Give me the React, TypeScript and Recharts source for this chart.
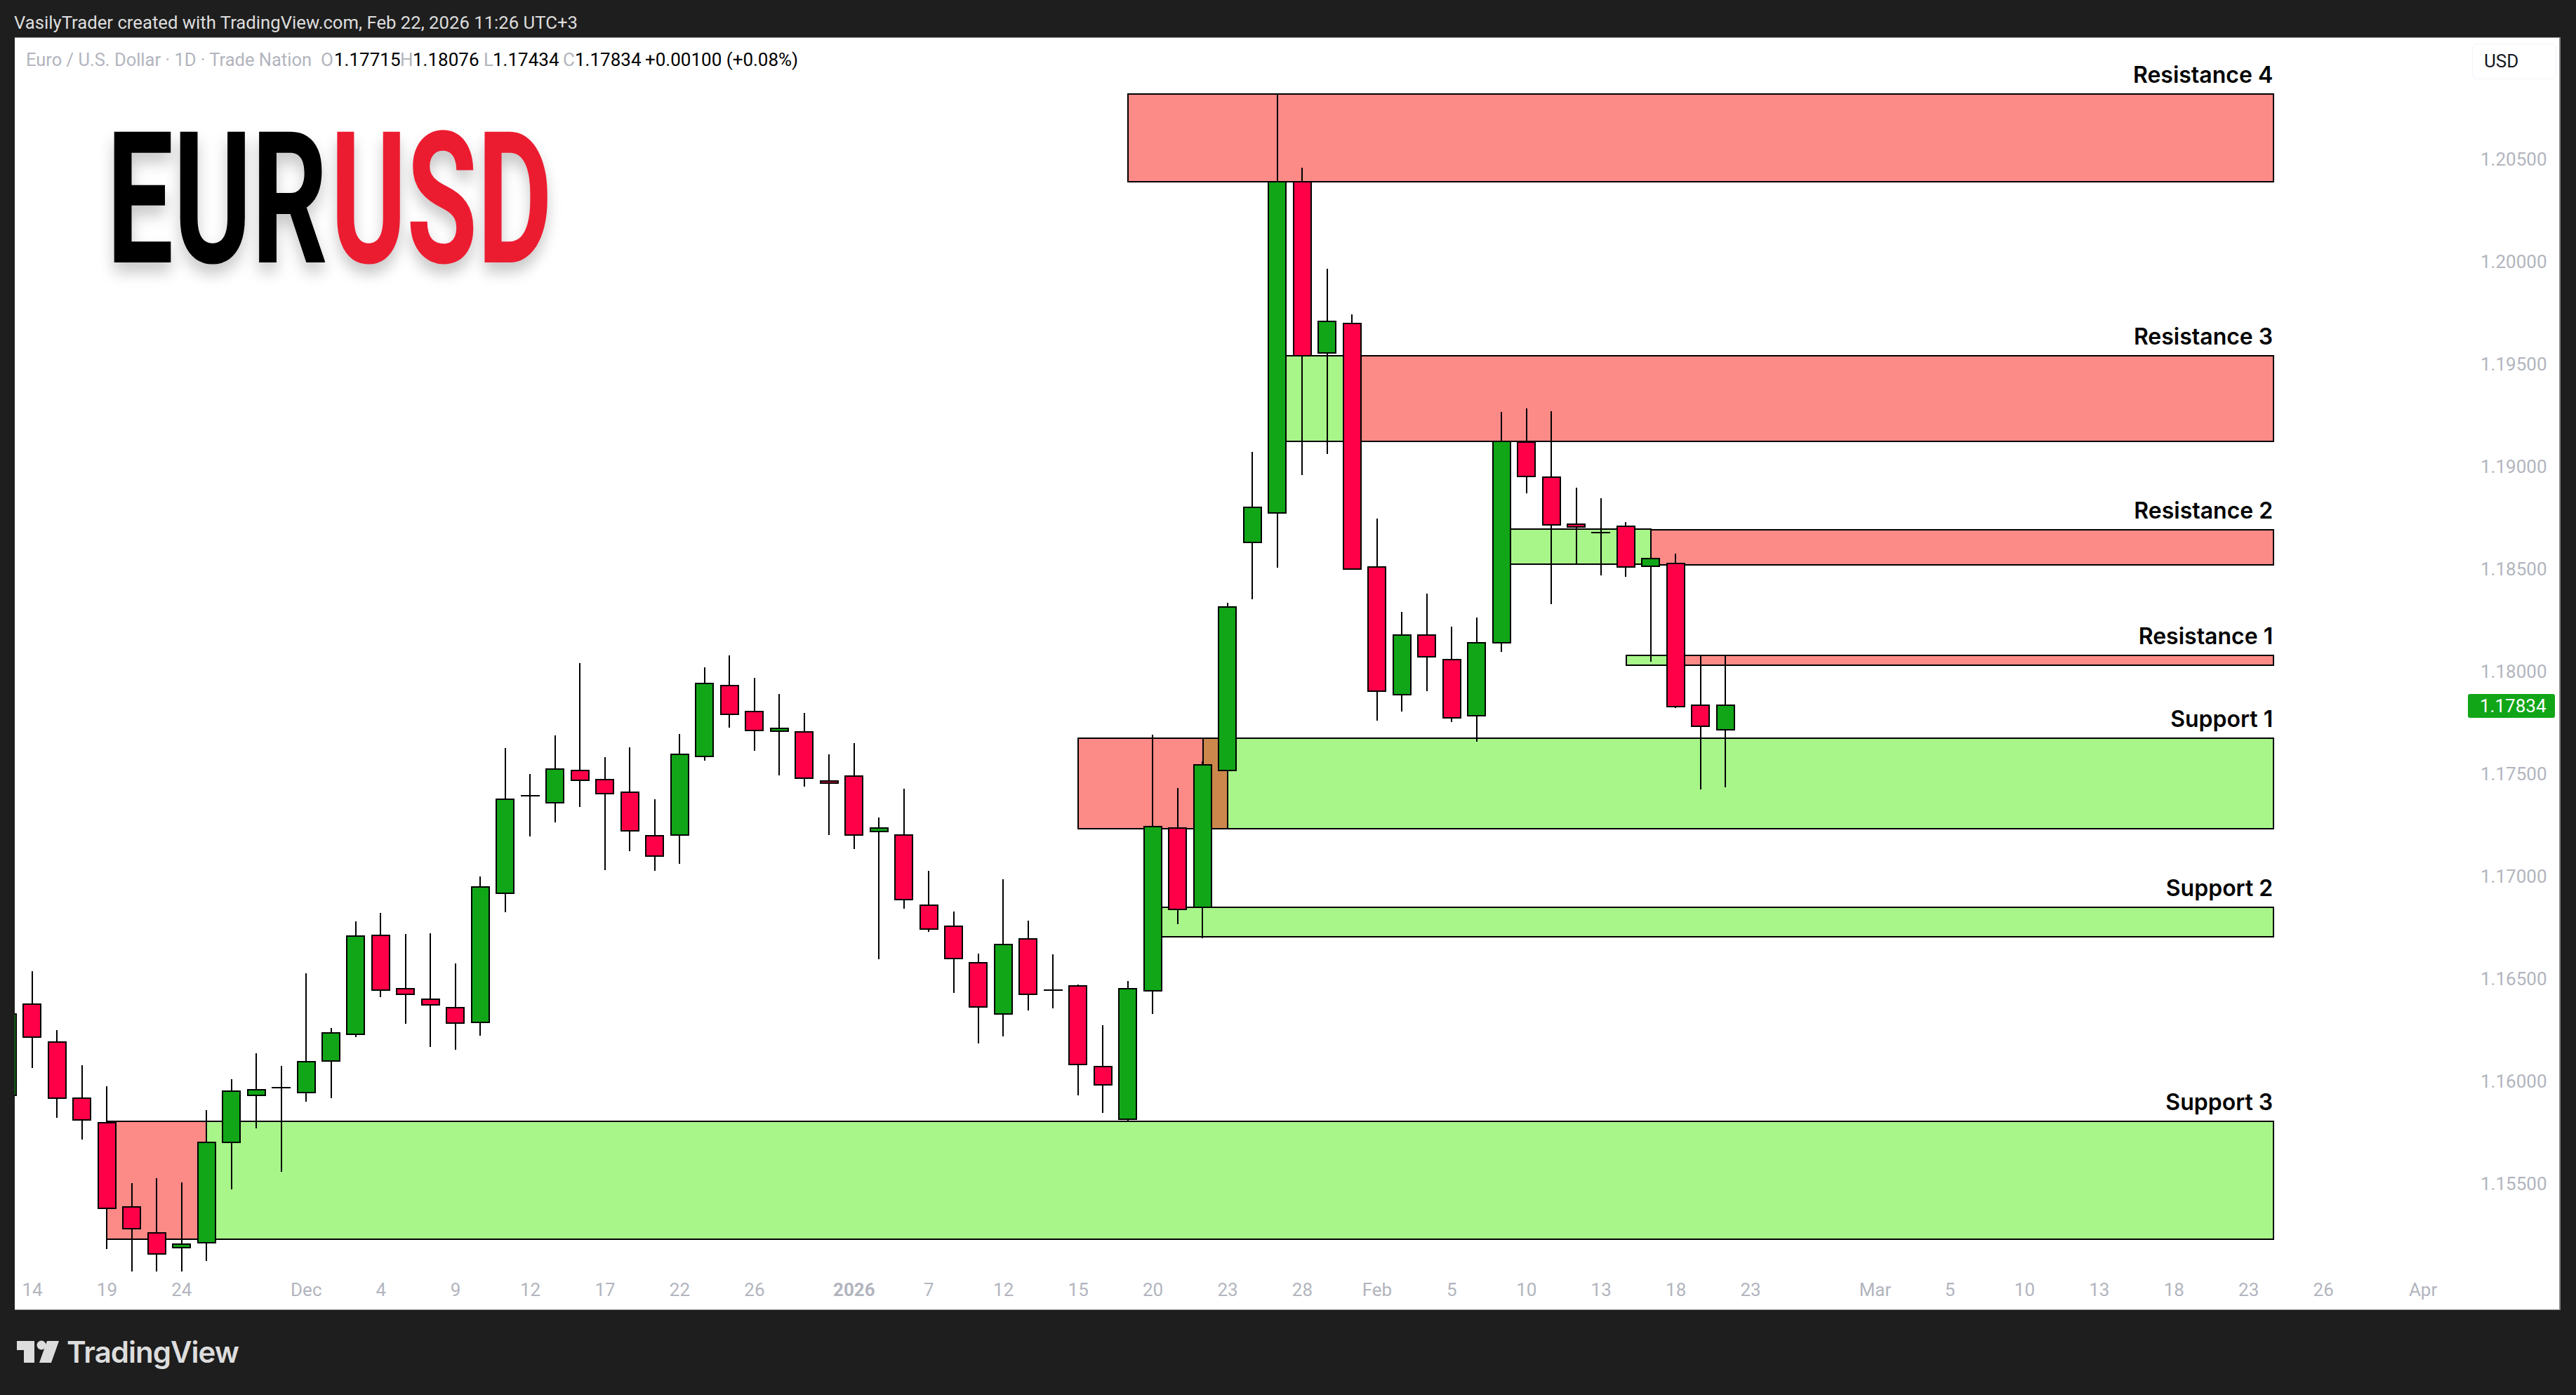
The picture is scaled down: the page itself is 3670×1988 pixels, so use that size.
import React from 'react';
import { ComposedChart, Bar, XAxis, YAxis, ReferenceArea } from 'recharts';

// daily EURUSD candles, first one is the half hidden bar left of the pane
const opens = [
  1.15933, 1.16376, 1.16193, 1.15919, 1.15799, 1.15387, 1.15262, 1.1519, 1.15214, 1.15702,
  1.15933, 1.15969, 1.15947, 1.161, 1.1623, 1.16712, 1.16454, 1.16401, 1.16359, 1.16289,
  1.16918, 1.17395, 1.1736, 1.17518, 1.17474, 1.17412, 1.172, 1.17202, 1.17586, 1.17932,
  1.17806, 1.17709, 1.17706, 1.17466, 1.17489, 1.17219, 1.17203, 1.1686, 1.16757, 1.16579,
  1.1633, 1.16694, 1.16447, 1.16466, 1.16073, 1.15814, 1.16443, 1.17236, 1.1685, 1.17517,
  1.1863, 1.18774, 1.2039, 1.19554, 1.19698, 1.1851, 1.17888, 1.18178, 1.18058, 1.17785,
  1.1814, 1.19119, 1.18948, 1.1872, 1.18679, 1.18709, 1.18514, 1.18527, 1.17837, 1.17715,
];
const highs = [
  1.164, 1.16538, 1.16251, 1.16079, 1.15978, 1.15505, 1.15529, 1.15508, 1.15861, 1.1601,
  1.16138, 1.16076, 1.16528, 1.16261, 1.16781, 1.16822, 1.16719, 1.16722, 1.16576, 1.16999,
  1.17627, 1.175, 1.17688, 1.18041, 1.17582, 1.1763, 1.17377, 1.17695, 1.1802, 1.18078,
  1.17969, 1.17891, 1.17798, 1.17596, 1.1765, 1.17288, 1.17428, 1.17028, 1.16829, 1.16623,
  1.16986, 1.16784, 1.1662, 1.16473, 1.16274, 1.1649, 1.17692, 1.17431, 1.17563, 1.18335,
  1.19071, 1.20822, 1.20458, 1.19964, 1.19741, 1.18746, 1.18292, 1.18379, 1.1822, 1.18263,
  1.19266, 1.19283, 1.1927, 1.18897, 1.18845, 1.18729, 1.18554, 1.18574, 1.18079, 1.18076,
];
const lows = [
  1.1585, 1.16064, 1.15821, 1.15718, 1.15181, 1.15074, 1.15074, 1.15074, 1.15123, 1.15473,
  1.1577, 1.15558, 1.159, 1.15917, 1.16215, 1.16411, 1.16282, 1.16167, 1.16153, 1.16222,
  1.16827, 1.17196, 1.17265, 1.1734, 1.17032, 1.17124, 1.17029, 1.17063, 1.17566, 1.17727,
  1.17614, 1.17494, 1.17437, 1.17201, 1.17135, 1.16595, 1.16841, 1.16731, 1.16431, 1.16185,
  1.16221, 1.16345, 1.16358, 1.15933, 1.15848, 1.15804, 1.16328, 1.16766, 1.167, 1.17236,
  1.18351, 1.18506, 1.18958, 1.1906, 1.18499, 1.17761, 1.17803, 1.17905, 1.17753, 1.17659,
  1.18097, 1.18868, 1.18329, 1.18526, 1.18469, 1.18463, 1.18049, 1.17822, 1.17423, 1.17434,
];
const closes = [
  1.16329, 1.16217, 1.15919, 1.15812, 1.15381, 1.15282, 1.15159, 1.15207, 1.15702, 1.15953,
  1.1596, 1.15968, 1.16096, 1.16237, 1.16708, 1.16445, 1.16425, 1.16373, 1.16285, 1.1695,
  1.17377, 1.17394, 1.17525, 1.17469, 1.17404, 1.17223, 1.17099, 1.17597, 1.17943, 1.17791,
  1.17712, 1.17723, 1.17479, 1.17454, 1.17203, 1.17236, 1.16887, 1.16743, 1.166, 1.16363,
  1.16668, 1.16426, 1.16446, 1.16083, 1.15984, 1.16452, 1.17243, 1.16838, 1.17545, 1.18315,
  1.188, 1.2039, 1.1954, 1.19707, 1.18501, 1.17905, 1.18178, 1.18073, 1.17774, 1.18141,
  1.19122, 1.18951, 1.18715, 1.18704, 1.18678, 1.18509, 1.18552, 1.17829, 1.17732, 1.17834,
];

const tickBars = [0, 3, 6, 11, 14, 17, 20, 23, 26, 29, 33, 36, 39, 42, 45, 48, 51, 54, 57, 60, 63, 66, 69, 74, 77, 80, 83, 86, 89, 92, 96];
const tickLabels = ['14', '19', '24', 'Dec', '4', '9', '12', '17', '22', '26', '2026', '7', '12', '15', '20', '23', '28', 'Feb', '5', '10', '13', '18', '23', 'Mar', '5', '10', '13', '18', '23', '26', 'Apr'];
const priceTicks = [1.155, 1.16, 1.165, 1.17, 1.175, 1.18, 1.185, 1.19, 1.195, 1.2, 1.205];

// support / resistance boxes, in paint order
const boxKinds = ['red', 'red', 'green', 'red', 'green', 'red', 'green', 'red', 'green', 'overlap', 'green', 'red', 'green'];
const boxFrom = [44, 53, 50, 65, 59, 66, 64, 42, 47, 47, 45, 3, 7];
const boxTo = [90, 90, 53, 90, 65, 90, 66, 48, 90, 48, 90, 7, 90];
const boxTop = [1.20818, 1.1954, 1.1954, 1.18691, 1.18696, 1.1808, 1.1808, 1.17676, 1.17676, 1.17676, 1.16848, 1.15804, 1.15804];
const boxBottom = [1.2039, 1.19124, 1.19124, 1.18521, 1.18523, 1.18032, 1.18032, 1.17233, 1.17233, 1.17233, 1.16706, 1.15231, 1.15231];
const boxLabels = ['Resistance 4', 'Resistance 3', '', 'Resistance 2', '', 'Resistance 1', '', '', 'Support 1', '', 'Support 2', '', 'Support 3'];

const candles = opens.map((open, i) => ({ bar: i - 1, open, high: highs[i], low: lows[i], close: closes[i] }));

const boxColors: Record<string, string> = { red: '#FC8A87', green: '#A8F58A', overlap: '#CC874D' };
const UP = '#11A618';
const DOWN = '#FF0048';
const UI_FONT = 'Roboto, sans-serif';

const Candle = (props: any) => {
  const { x, y, width, height, payload } = props;
  const perPrice = height / (payload.high - payload.low);
  const top = y + (payload.high - Math.max(payload.open, payload.close)) * perPrice;
  const bottom = y + (payload.high - Math.min(payload.open, payload.close)) * perPrice;
  const mid = x + width / 2;
  return (
    <g shapeRendering="crispEdges">
      <line x1={mid} x2={mid} y1={y} y2={y + height} stroke="#000" strokeWidth={2} />
      <rect x={x} y={top} width={width} height={bottom - top} fill={payload.close >= payload.open ? UP : DOWN} stroke="#000" strokeWidth={2} />
    </g>
  );
};

const BoxLabel = (props: any) => {
  const { viewBox, text } = props;
  if (!text || !viewBox) return null;
  return (
    <text x={viewBox.x + viewBox.width - 1} y={viewBox.y - 16} textAnchor="end" fontFamily="Inter, sans-serif" fontWeight={600} fontSize={32} fill="#000">
      {text}
    </text>
  );
};

const DateTick = (props: any) => {
  const { x, y, payload } = props;
  const label = tickLabels[tickBars.indexOf(payload.value)];
  return (
    <text x={x} y={y + 23} textAnchor="middle" fontFamily={UI_FONT} fontSize={26} fontWeight={label === '2026' ? 700 : 400} fill="#B2B5BE">
      {label}
    </text>
  );
};

const put = (left: number, top: number, extra: React.CSSProperties = {}): React.CSSProperties => ({
  position: 'absolute', left, top, whiteSpace: 'nowrap', fontFamily: UI_FONT, fontSize: 26, lineHeight: '30px', ...extra,
});

const Legend = () => (
  <>
    <span style={put(37, 70, { color: '#B2B5BE', fontSize: 25.5 })}>Euro / U.S. Dollar · 1D · Trade Nation</span>
    <span style={put(457, 70, { color: '#B2B5BE' })}>O</span>
    <span style={put(476, 70, { color: '#000' })}>1.17715</span>
    <span style={put(570, 70, { color: '#B2B5BE' })}>H</span>
    <span style={put(588, 70, { color: '#000' })}>1.18076</span>
    <span style={put(689, 70, { color: '#B2B5BE' })}>L</span>
    <span style={put(702, 70, { color: '#000' })}>1.17434</span>
    <span style={put(802, 70, { color: '#B2B5BE' })}>C</span>
    <span style={put(819, 70, { color: '#000' })}>1.17834</span>
    <span style={put(919, 70, { color: '#000' })}>+0.00100 (+0.08%)</span>
  </>
);

const logoWord = (left: number, text: string, color: string, stretch: number) => (
  <span style={put(left, 154, {
    color, fontFamily: 'Roboto, sans-serif', fontWeight: 700, fontSize: 262, lineHeight: '262px',
    transform: `scaleX(${stretch})`, transformOrigin: 'left top', textShadow: '0 14px 26px rgba(0,0,0,0.22)',
  })}>{text}</span>
);

export default function App() {
  return (
    <div style={{ position: 'absolute', left: 0, top: 0, width: 3670, height: 1988, background: '#1E1E1E', overflow: 'hidden' }}>
      <div style={{ position: 'absolute', left: 21, top: 53, width: 3627, height: 1814, background: '#fff', borderTop: '1px solid #8a8a8a', borderRight: '2px solid #8a8a8a', borderBottom: '1px solid #8a8a8a', boxSizing: 'border-box' }} />
      <span style={put(20, 17, { color: '#DDD', fontSize: 25.7 })}>VasilyTrader created with TradingView.com, Feb 22, 2026 11:26 UTC+3</span>
      <Legend />
      {logoWord(152, 'EUR', '#000', 0.645)}
      {logoWord(471, 'USD', '#EC1C30', 0.626)}
      <div style={{ position: 'absolute', left: 0, top: 0 }}>
        <ComposedChart width={3670} height={1988} data={candles} margin={{ left: 21, top: 54, right: 22, bottom: 122 }}>
          <XAxis
            dataKey="bar"
            type="number"
            domain={[-0.7046, 97.21]}
            allowDataOverflow
            ticks={tickBars}
            interval={0}
            axisLine={false}
            tickLine={false}
            height={50}
            tick={<DateTick />}
          />
          <YAxis
            orientation="right"
            type="number"
            domain={[1.15059, 1.21091]}
            allowDataOverflow
            ticks={priceTicks}
            interval={0}
            width={153}
            axisLine={false}
            tickLine={false}
            tickMargin={33}
            tick={{ fontFamily: UI_FONT, fontSize: 26, fill: '#B2B5BE' }}
            tickFormatter={(v: number) => v.toFixed(5)}
          />
          {boxKinds.map((kind, i) => (
            <ReferenceArea
              key={i}
              x1={boxFrom[i]}
              x2={boxTo[i]}
              y1={boxBottom[i]}
              y2={boxTop[i]}
              fill={boxColors[kind]}
              fillOpacity={1}
              stroke="#000"
              strokeWidth={2}
              shapeRendering="crispEdges"
              label={<BoxLabel text={boxLabels[i]} />}
            />
          ))}
          <Bar dataKey={(d: any) => [d.low, d.high]} barSize={25} shape={<Candle />} isAnimationActive={false} />
        </ComposedChart>
      </div>
      <div style={{ position: 'absolute', left: 3522, top: 62, width: 120, height: 51, border: '1px solid #F0F3FA', borderRadius: 8, boxSizing: 'border-box' }} />
      <span style={put(3539, 72, { color: '#131722', fontSize: 26 })}>USD</span>
      <div style={{ position: 'absolute', left: 3516, top: 989, width: 124, height: 34, background: UP, borderRadius: 3, color: '#fff', fontFamily: UI_FONT, fontSize: 26, lineHeight: '34px', paddingLeft: 17, boxSizing: 'border-box' }}>1.17834</div>
      <svg style={{ position: 'absolute', left: 0, top: 0 }} width={120} height={1988}>
        <polygon points="24,1911 49,1911 49,1942 34,1942 34,1924 24,1924" fill="#DDD" />
        <circle cx={59} cy={1917} r={6.5} fill="#DDD" />
        <polygon points="67,1911 84,1911 73,1942 56,1942" fill="#DDD" />
      </svg>
      <span style={put(95, 1902, { color: '#DDD', fontFamily: 'Inter, sans-serif', fontSize: 42, fontWeight: 600, lineHeight: '50px', letterSpacing: -1 })}>TradingView</span>
    </div>
  );
}
